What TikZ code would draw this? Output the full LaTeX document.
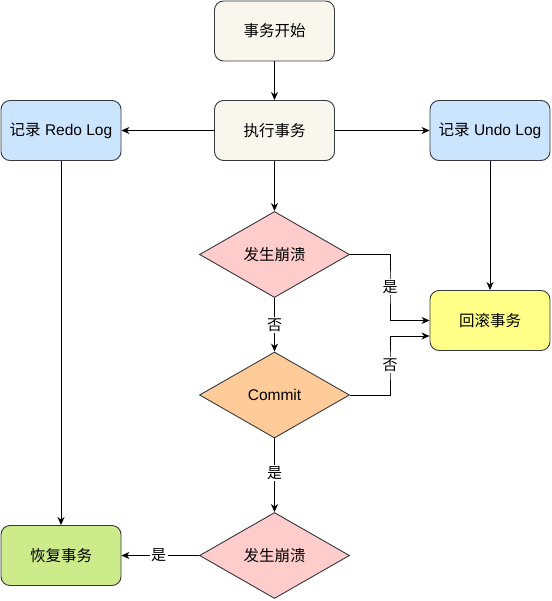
\documentclass[tikz,border=0pt]{standalone}
\usepackage{fontspec}
\setmainfont{Liberation Sans}
\newfontfamily\cjk{Noto Sans CJK SC}
\usetikzlibrary{shapes.geometric,arrows.meta}
\definecolor{strk}{HTML}{36393D}
\definecolor{beige}{HTML}{F9F7ED}
\definecolor{lblue}{HTML}{CCE5FF}
\definecolor{lpink}{HTML}{FFCCCC}
\definecolor{lorange}{HTML}{FFCC99}
\definecolor{lyellow}{HTML}{FFFF88}
\definecolor{lgreen}{HTML}{CDEB8B}
\tikzset{
  every node/.style={font=\fontsize{15.5}{18}\selectfont},
  boxnode/.style={draw=strk, line width=0.9pt, rounded corners=9pt, minimum width=120pt, minimum height=60pt, inner sep=0pt},
  dianode/.style={draw=strk, line width=0.9pt, diamond, aspect=1.74, minimum width=150pt, minimum height=86pt, inner sep=0pt},
  conn/.style={draw=black, line width=0.9pt, -{Stealth[length=8pt,width=7pt,inset=2.5pt]}},
  lbl/.style={fill=white, inner sep=1.5pt, font=\fontsize{15}{18}\selectfont\cjk}
}
\begin{document}
\begin{tikzpicture}[x=1pt,y=-1pt]
\useasboundingbox (0,0) rectangle (551,601);
\node[boxnode, fill=beige] (start) at (274.5,31) {\cjk 事务开始};
\node[boxnode, fill=beige] (exec) at (274.5,130.5) {\cjk 执行事务};
\node[boxnode, fill=lblue] (redo) at (61,130.5) {{\cjk 记录} Redo Log};
\node[boxnode, fill=lblue] (undo) at (490,130.5) {{\cjk 记录} Undo Log};
\node[dianode, fill=lpink] (c1) at (274.5,254.5) {\cjk 发生崩溃};
\node[boxnode, fill=lyellow] (rb) at (490,320.5) {\cjk 回滚事务};
\node[dianode, fill=lorange] (commit) at (274.5,395) {Commit};
\node[dianode, fill=lpink] (c2) at (274.5,555.5) {\cjk 发生崩溃};
\node[boxnode, fill=lgreen] (rec) at (61,555.5) {\cjk 恢复事务};

\draw[conn] (start) -- (exec);
\draw[conn] (exec) -- (redo);
\draw[conn] (exec) -- (undo);
\draw[conn] (exec) -- (c1);
\draw[conn] (redo) -- (rec);
\draw[conn] (undo) -- (rb);
\draw[conn] (c1.east) -| (390,287) node[lbl] {是} |- (rb.west);
\draw[conn] (c1.south) -- node[lbl] {否} (commit.north);
\draw[conn] (commit.east) -| (390,365) node[lbl] {否} |- ([yshift=-15.5pt]rb.west);
\draw[conn] (commit.south) -- node[lbl, pos=0.47] {是} (c2.north);
\draw[conn] (c2.west) -- node[lbl, pos=0.52] {是} (rec.east);
\end{tikzpicture}
\end{document}
